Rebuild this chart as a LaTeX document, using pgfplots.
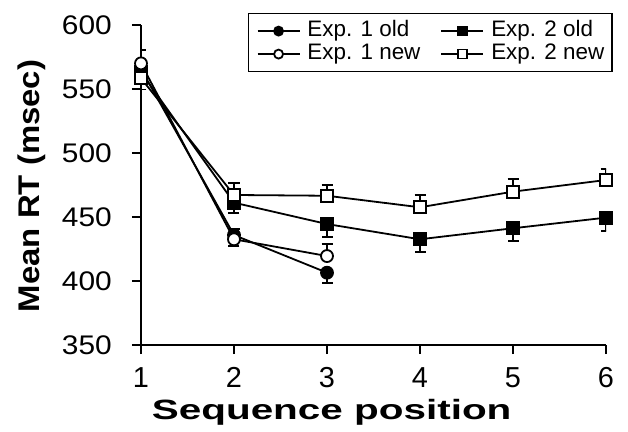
\documentclass[border=0pt]{standalone}
\usepackage{pgfplots}
\pgfplotsset{compat=1.18}
\usepackage{fontspec}
\setmainfont{Liberation Sans}
\newcommand{\lgf}{\fontsize{22.5}{23}\selectfont}
\begin{document}
\begin{tikzpicture}
\begin{axis}[
  name=ax,
  scale only axis,
  width=465bp, height=320bp,
  xmin=1, xmax=6, ymin=350, ymax=600,
  xtick={1,2,3,4,5,6},
  ytick={350,400,450,500,550,600},
  axis x line*=bottom, axis y line*=left,
  axis line style={-, line width=1.8bp},
  tick align=outside,
  major tick length=9bp,
  tick style={line width=1.8bp, black},
  /pgf/number format/assume math mode=true,
  xticklabel={\fontsize{29}{30}\selectfont\pgfmathprintnumber{\tick}},
  yticklabel={\fontsize{27}{28}\selectfont\scalebox{1.11}[1]{\pgfmathprintnumber{\tick}}},
  xticklabel style={anchor=north, inner sep=0pt, yshift=-13bp},
  yticklabel style={anchor=east, inner sep=0pt, xshift=-20bp},
  every axis y label/.style={at={(axis description cs:-0.2355,0.497)},rotate=90,anchor=center},
  every axis x label/.style={at={(axis description cs:0.41,-0.234)},anchor=base},
  xlabel={\scalebox{1.45}[1]{\fontsize{28}{30}\selectfont\bfseries Sequence position}},
  ylabel={\scalebox{1.1}[1]{\fontsize{30}{32}\selectfont\bfseries Mean RT (msec)}},
  legend columns=2,
  legend style={at={(axis description cs:1.015,1.038)}, anchor=north east,
    draw=black, line width=1.5bp,
    inner xsep=8bp, inner ysep=6bp, row sep=0pt,
    nodes={inner sep=0pt, text height=16.5bp, text depth=6.5bp},
    /tikz/every odd column/.append style={column sep=7bp},
    /tikz/every even column/.append style={column sep=20bp}},
  legend cell align=left,
  legend image code/.code={\draw[mark repeat=2,mark phase=2,mark size=4.5bp] plot coordinates {(0bp,0bp) (21bp,0bp) (42bp,0bp)};},
  every axis plot/.append style={line width=1.8bp, black},
  error bars/error bar style={line width=1.8bp},
  error bars/error mark options={rotate=90, mark size=5.5bp, line width=1.8bp},
]
% Exp. 1 old
\addplot[mark=*, mark size=6bp, mark options={fill=black},
  error bars/.cd, y dir=minus, y explicit]
  coordinates {(1,565.6) -= (0,16) (2,435.9) -= (0,8.3) (3,406.5) -= (0,7.8)};
\addlegendentry{\lgf Exp. 1 old}
% Exp. 2 old
\addplot[mark=square*, mark size=6bp, mark options={fill=black},
  error bars/.cd, y dir=minus, y explicit]
  coordinates {(1,563) -= (0,7) (2,461.2) -= (0,7.8) (3,444.5) -= (0,10.4) (4,432.6) -= (0,10.2) (5,441.2) -= (0,9.7) (6,449.5) -= (0,10.2)};
\addlegendentry{\lgf Exp. 2 old}
% Exp. 1 new
\addplot[mark=*, mark size=6bp, mark options={fill=white},
  error bars/.cd, y dir=plus, y explicit]
  coordinates {(1,570) += (0,10.5) (2,432.6) += (0,7.8) (3,419.5) += (0,9.2)};
\addlegendentry{\lgf Exp. 1 new}
% Exp. 2 new
\addplot[mark=square*, mark size=6bp, mark options={fill=white},
  error bars/.cd, y dir=plus, y explicit]
  coordinates {(1,558.4) += (0,8) (2,467.2) += (0,9.1) (3,466.6) += (0,8.4) (4,457.6) += (0,9.6) (5,469.8) += (0,9.7) (6,478.9) += (0,8.4)};
\addlegendentry{\lgf Exp. 2 new}
\end{axis}
\pgfresetboundingbox
\path[use as bounding box] ([xshift=-141bp,yshift=-87bp]ax.south west) rectangle ([xshift=22bp,yshift=25bp]ax.north east);
\end{tikzpicture}
\end{document}
